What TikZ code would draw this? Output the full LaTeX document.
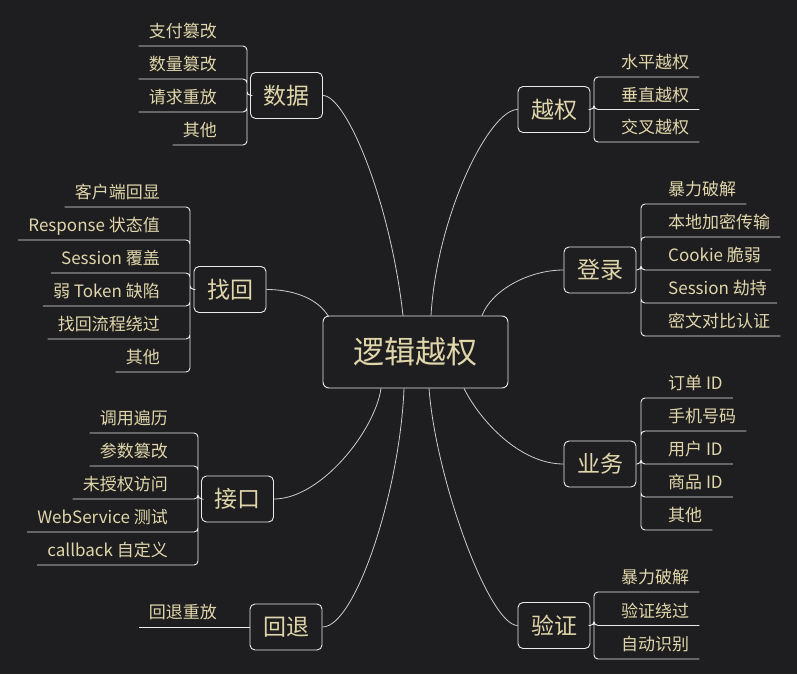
\documentclass[tikz,border=0pt]{standalone}
\usepackage{fontspec}
\setmainfont{Noto Sans CJK SC}

\definecolor{bgcol}{RGB}{30,30,32}
\definecolor{textcol}{RGB}{224,214,170}
\definecolor{linecol}{RGB}{235,235,235}
\definecolor{curvecol}{RGB}{205,205,205}

\tikzset{
  root/.style={draw=linecol, line width=0.9pt, rounded corners=6pt, text=textcol, inner sep=0pt,
    minimum width=185pt, minimum height=72pt, font=\fontsize{31}{31}\selectfont},
  topic/.style={draw=linecol, line width=0.9pt, rounded corners=5pt, text=textcol, inner sep=0pt,
    minimum width=72pt, minimum height=46pt, font=\fontsize{23}{23}\selectfont},
  leafl/.style={anchor=south east, text=textcol, inner xsep=10pt, inner ysep=0pt,
    text height=13pt, text depth=8pt, font=\fontsize{17}{17}\selectfont},
  leafr/.style={leafl, anchor=south west},
  elbow/.style={draw=linecol, line width=0.9pt, rounded corners=4pt},
  curve/.style={draw=curvecol, line width=0.8pt},
}

\begin{document}
\begin{tikzpicture}[x=1pt,y=-1pt]
\fill[bgcol] (0,0) rectangle (797,674);

% centre and topics
\node[root] (root) at (415.5,352) {逻辑越权};
\node[topic] (data) at (286.5,95.5) {数据};
\node[topic] (priv) at (554,109.5) {越权};
\node[topic] (reset) at (230,289.5) {找回};
\node[topic] (login) at (600,270) {登录};
\node[topic] (api) at (237.5,499) {接口};
\node[topic] (biz) at (600,464) {业务};
\node[topic] (back) at (286,627) {回退};
\node[topic] (verify) at (554,625.5) {验证};

% curves from the centre
\draw[curve] (data.east) .. controls +(23,0) and +(-13,-116) .. ([xshift=-12.5pt]root.north);
\draw[curve] (priv.west) .. controls +(-28,0) and +(6,-101) .. ([xshift=15.5pt]root.north);
\draw[curve] (reset.east) .. controls +(29,0) and +(-10,-17) .. ([xshift=6pt,yshift=-1pt]root.north west);
\draw[curve] (login.west) .. controls +(-34,0) and +(10,-26) .. ([xshift=66.5pt]root.north);
\draw[curve] (api.east) .. controls +(47,0) and +(-6,42) .. ([xshift=-34.5pt]root.south);
\draw[curve] (back.east) .. controls +(33,0) and +(-4,102) .. ([xshift=-11.5pt]root.south);
\draw[curve] (verify.west) .. controls +(-28,0) and +(7,92) .. ([xshift=13.5pt]root.south);
\draw[curve] (biz.west) .. controls +(-44,0) and +(16,32) .. ([xshift=48.5pt]root.south);

% 数据
\node[leafl] (d1) at (227,46) {支付篡改};
\node[leafl] (d2) at (227,79) {数量篡改};
\node[leafl] (d3) at (227,112) {请求重放};
\node[leafl] (d4) at (227,145) {其他};
\draw[elbow] (data.west) -- (247,95.5) |- (d1.south west) (247,95.5) |- (d2.south west)
  (247,95.5) |- (d3.south west) (247,95.5) |- (d4.south west);

% 越权
\node[leafr] (v1) at (611,77) {水平越权};
\node[leafr] (v2) at (611,109.5) {垂直越权};
\node[leafr] (v3) at (611,142) {交叉越权};
\draw[elbow] (priv.east) -- (594,109.5) |- (v1.south east) (594,109.5) |- (v2.south east)
  (594,109.5) |- (v3.south east);

% 找回
\node[leafl] (r1) at (170,207) {客户端回显};
\node[leafl] (r2) at (170,240) {Response 状态值};
\node[leafl] (r3) at (170,273) {Session 覆盖};
\node[leafl] (r4) at (170,306) {弱 Token 缺陷};
\node[leafl] (r5) at (170,339) {找回流程绕过};
\node[leafl] (r6) at (170,372) {其他};
\draw[elbow] (reset.west) -- (190,289.5) |- (r1.south west) (190,289.5) |- (r2.south west)
  (190,289.5) |- (r3.south west) (190,289.5) |- (r4.south west)
  (190,289.5) |- (r5.south west) (190,289.5) |- (r6.south west);

% 登录
\node[leafr] (l1) at (658,204) {暴力破解};
\node[leafr] (l2) at (658,237) {本地加密传输};
\node[leafr] (l3) at (658,270) {Cookie 脆弱};
\node[leafr] (l4) at (658,303) {Session 劫持};
\node[leafr] (l5) at (658,336) {密文对比认证};
\draw[elbow] (login.east) -- (641,270) |- (l1.south east) (641,270) |- (l2.south east)
  (641,270) |- (l3.south east) (641,270) |- (l4.south east) (641,270) |- (l5.south east);

% 业务
\node[leafr] (b1) at (658,398) {订单 ID};
\node[leafr] (b2) at (658,431) {手机号码};
\node[leafr] (b3) at (658,464) {用户 ID};
\node[leafr] (b4) at (658,497) {商品 ID};
\node[leafr] (b5) at (658,530) {其他};
\draw[elbow] (biz.east) -- (641,464) |- (b1.south east) (641,464) |- (b2.south east)
  (641,464) |- (b3.south east) (641,464) |- (b4.south east) (641,464) |- (b5.south east);

% 接口
\node[leafl] (a1) at (178,433) {调用遍历};
\node[leafl] (a2) at (178,466) {参数篡改};
\node[leafl] (a3) at (178,499) {未授权访问};
\node[leafl] (a4) at (178,532) {WebService 测试};
\node[leafl] (a5) at (178,565) {callback 自定义};
\draw[elbow] (api.west) -- (198,499) |- (a1.south west) (198,499) |- (a2.south west)
  (198,499) |- (a3.south west) (198,499) |- (a4.south west) (198,499) |- (a5.south west);

% 回退
\node[leafl] (k1) at (227,627) {回退重放};
\draw[elbow] (back.west) -- (k1.south west);

% 验证
\node[leafr] (y1) at (611,592) {暴力破解};
\node[leafr] (y2) at (611,625.5) {验证绕过};
\node[leafr] (y3) at (611,659) {自动识别};
\draw[elbow] (verify.east) -- (594,625.5) |- (y1.south east) (594,625.5) |- (y2.south east)
  (594,625.5) |- (y3.south east);
\end{tikzpicture}
\end{document}
